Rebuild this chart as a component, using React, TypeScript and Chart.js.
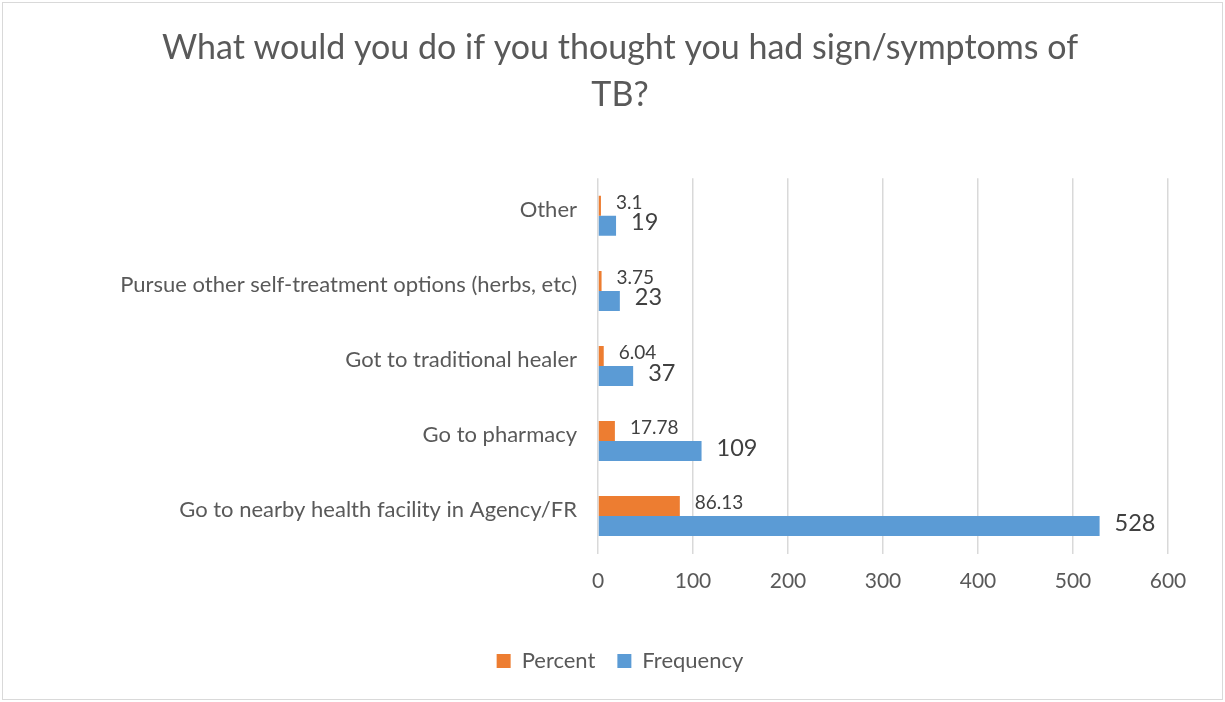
import React, { useEffect, useRef } from "react";
import { Chart, registerables } from "chart.js";

Chart.register(...registerables);

const titleLines = ["What would you do if you thought you had sign/symptoms of", "TB?"];
const categories = [
  "Other",
  "Pursue other self-treatment options (herbs, etc)",
  "Got to traditional healer",
  "Go to pharmacy",
  "Go to nearby health facility in Agency/FR",
];
const percentValues = [3.1, 3.75, 6.04, 17.78, 86.13];
const frequencyValues = [19, 23, 37, 109, 528];
const seriesNames = ["Percent", "Frequency"];
const xTickMin = 0;
const xTickMax = 600;
const xTickStep = 100;

const FONT = "Lato";
const TEXT = "#595959";
const LABEL = "#404040";
const ORANGE = "#ED7D31";
const BLUE = "#5B9BD5";

const valueLabels = {
  id: "valueLabels",
  afterDatasetsDraw(chart: any) {
    const ctx = chart.ctx;
    chart.data.datasets.forEach((ds: any, di: number) => {
      const meta = chart.getDatasetMeta(di);
      meta.data.forEach((bar: any, i: number) => {
        const v = ds.data[i];
        ctx.save();
        ctx.font = di === 0 ? `19px ${FONT}` : `23.5px ${FONT}`;
        ctx.fillStyle = LABEL;
        ctx.textAlign = "left";
        ctx.textBaseline = "middle";
        ctx.fillText(String(v), bar.x + 15, bar.y - 3);
        ctx.restore();
      });
    });
  },
};

export default function App() {
  const canvasRef = useRef<HTMLCanvasElement | null>(null);

  useEffect(() => {
    document.body.style.margin = "0";
    let chart: Chart | null = null;
    let cancelled = false;
    const build = () => {
      if (cancelled || !canvasRef.current) return;
      chart = new Chart(canvasRef.current, {
        type: "bar",
        data: {
          labels: categories,
          datasets: [
            {
              label: seriesNames[0],
              data: percentValues,
              backgroundColor: ORANGE,
              categoryPercentage: 0.5333,
              barPercentage: 1,
            },
            {
              label: seriesNames[1],
              data: frequencyValues,
              backgroundColor: BLUE,
              categoryPercentage: 0.5333,
              barPercentage: 1,
            },
          ],
        },
        plugins: [valueLabels],
        options: {
          indexAxis: "y",
          animation: false,
          responsive: false,
          maintainAspectRatio: false,
          layout: { padding: { left: 72, right: 57, top: 0, bottom: 20 } },
          plugins: {
            title: {
              display: true,
              text: titleLines,
              color: TEXT,
              font: { family: FONT, size: 34, weight: "normal", lineHeight: 1.38 },
              padding: { top: 24.5, bottom: 60 },
            },
            legend: {
              display: true,
              position: "bottom",
              labels: {
                color: TEXT,
                font: { family: FONT, size: 22 },
                boxWidth: 14,
                boxHeight: 14,
                padding: 22,
              },
            },
            tooltip: { enabled: false },
          },
          scales: {
            x: {
              min: xTickMin,
              max: xTickMax,
              ticks: {
                stepSize: xTickStep,
                color: TEXT,
                font: { family: FONT, size: 21 },
                padding: 15,
              },
              grid: { color: "#d9d9d9", lineWidth: 1.5, drawTicks: false },
              border: { display: false },
              afterFit: (scale: any) => {
                scale.height = 74.5;
              },
            },
            y: {
              ticks: {
                color: TEXT,
                font: { family: FONT, size: 22 },
                padding: 21,
                labelOffset: -6,
              },
              grid: { display: false, drawTicks: false },
              border: { display: false },
              afterFit: (scale: any) => {
                scale.width = 526;
              },
            },
          },
        },
      });
    };
    const fontsToLoad = [
      `19px ${FONT}`,
      `21px ${FONT}`,
      `22px ${FONT}`,
      `23.5px ${FONT}`,
      `34px ${FONT}`,
    ];
    Promise.all(fontsToLoad.map((f) => (document as any).fonts.load(f)))
      .catch(() => null)
      .then(build);
    return () => {
      cancelled = true;
      if (chart) chart.destroy();
    };
  }, []);

  return (
    <div style={{ position: "fixed", left: 0, top: 0, width: 1225, height: 702, background: "#fff" }}>
      <div
        style={{
          position: "absolute",
          left: 2,
          top: 2,
          width: 1221,
          height: 698,
          border: "1px solid #d9d9d9",
          boxSizing: "border-box",
        }}
      />
      <canvas
        ref={canvasRef}
        width={1225}
        height={702}
        style={{ position: "absolute", left: 0, top: 0, width: 1225, height: 702 }}
      />
    </div>
  );
}
